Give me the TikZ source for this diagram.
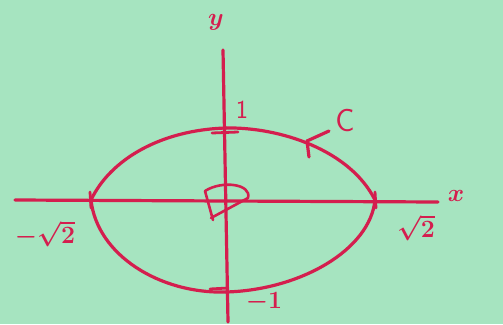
\documentclass[tikz,border=0pt]{standalone}
\usepackage{tikz}
\usepackage{xcolor}
\usetikzlibrary{arrows.meta,calc}
\definecolor{paperGreen}{RGB}{166,228,192}
\definecolor{penRed}{RGB}{212,30,78}
\tikzset{
    penLine/.style={draw=penRed, line width=3.2pt, line cap=round, line join=round},
    penLabel/.style={text=penRed, font=\fontsize{26}{28}\selectfont\sffamily\boldmath, inner sep=1pt},
    % tick marks on the axes
    penTick/.style={penLine, line width=2.8pt}
}

\begin{document}
\begin{tikzpicture}[x=1pt, y=-1pt]
\fill[paperGreen] (0,0) rectangle (503,324);
\useasboundingbox (0,0) rectangle (503,324);

% axes
\coordinate (xl) at (15,200);
\coordinate (xr) at (438,202);
\coordinate (yt) at (223,50);
\coordinate (yb) at (228,322);
\draw[penLine] (xl) -- (xr);
\draw[penLine] (yt) -- (yb);

% the curve C
\coordinate (L) at (91,200);
\coordinate (T) at (226,128);
\coordinate (R) at (375,200);
\coordinate (B) at (226,292);
\draw[penLine] (L) .. controls (110,160) and (160,130) .. (T);
\draw[penLine] (T) .. controls (280,127) and (350,150) .. (R);
\draw[penLine] (R) .. controls (370,250) and (300,290) .. (B);
\draw[penLine] (B) .. controls (160,294) and (97,255) .. (L);

% arrow on C
\coordinate (tip) at (307,141);
\draw[penLine] (329,131) -- (tip) -- (309,157);

% ticks
\draw[penTick] (212,133) -- (238,132);
\draw[penTick] (210,289) -- (228,288);
\draw[penTick] (90,192) -- (91,208);
\draw[penTick] (375,192) -- (376,208);

% angle mark at the origin
\draw[penLine, line width=2.6pt] (213,220) -- (205,191) .. controls (222,180) and (252,184) .. (248,198) -- (211,218);

% labels
\node[penLabel] (ylab) at (216,22) {$y$};
\node[penLabel] (xlab) at (456,196) {$x$};
\node[penLabel] (one) at (242,110) {1};
\node[penLabel] (mone) at (264,302) {$-1$};
\node[penLabel, font=\fontsize{32}{34}\selectfont\sffamily] (clab) at (345,121) {C};
\node[penLabel] (mroot) at (45,234) {$-\sqrt{2}$};
\node[penLabel] (root) at (416,228) {$\sqrt{2}$};
\end{tikzpicture}
\end{document}
